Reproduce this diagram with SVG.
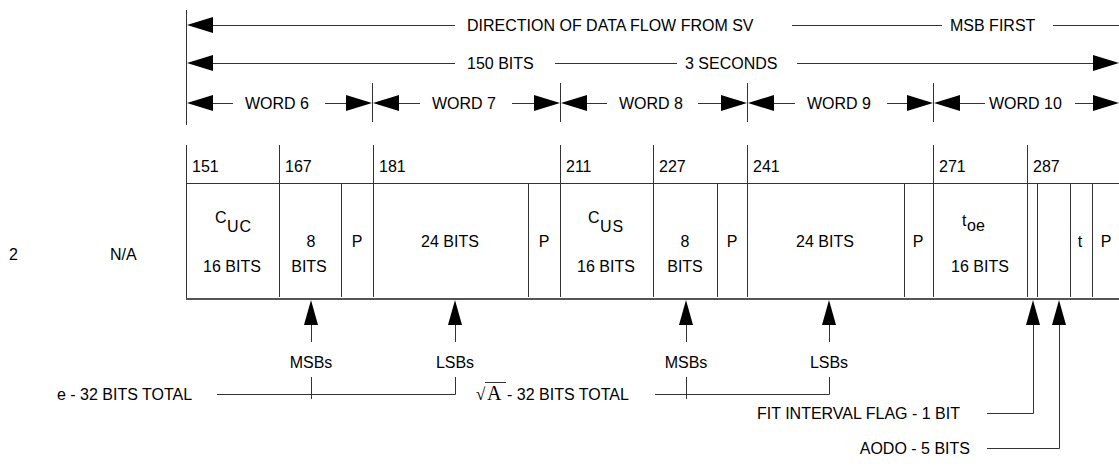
<svg xmlns="http://www.w3.org/2000/svg" width="1119" height="466" viewBox="0 0 1119 466">
<style>
text{font-family:"Liberation Sans",Arial,sans-serif;font-size:16px;fill:#000}
.c{text-anchor:middle}
.e{text-anchor:end}
.ln{stroke:#333;stroke-width:1;fill:none}
.bl{stroke:#555;stroke-width:2;fill:none}
.ah{fill:#000}
.serif{font-family:"Liberation Serif","Times New Roman",serif}
</style>
<rect width="1119" height="466" fill="#fff"/>
<g id="connectors">
<line class="ln" x1="186.5" y1="10" x2="186.5" y2="125"/>
<polygon class="ah" points="187,25 213,17 213,33"/>
<line class="ln" x1="213" y1="25.5" x2="455" y2="25.5"/>
<line class="ln" x1="792" y1="25.5" x2="942" y2="25.5"/>
<line class="ln" x1="1053" y1="25.5" x2="1119" y2="25.5"/>
<polygon class="ah" points="187,63 213,55 213,71"/>
<line class="ln" x1="213" y1="63.5" x2="455" y2="63.5"/>
<line class="ln" x1="555" y1="63.5" x2="677" y2="63.5"/>
<line class="ln" x1="797" y1="63.5" x2="1094" y2="63.5"/>
<polygon class="ah" points="1119,63 1093,55 1093,71"/>
<line class="ln" x1="372.5" y1="83" x2="372.5" y2="122"/>
<line class="ln" x1="560.5" y1="83" x2="560.5" y2="122"/>
<line class="ln" x1="747.5" y1="83" x2="747.5" y2="122"/>
<line class="ln" x1="933.5" y1="83" x2="933.5" y2="122"/>
<polygon class="ah" points="187,103 213,95 213,111"/>
<line class="ln" x1="213" y1="103.5" x2="233" y2="103.5"/>
<line class="ln" x1="325" y1="103.5" x2="347" y2="103.5"/>
<polygon class="ah" points="372,103 346,95 346,111"/>
<polygon class="ah" points="373,103 399,95 399,111"/>
<line class="ln" x1="399" y1="103.5" x2="420" y2="103.5"/>
<line class="ln" x1="512" y1="103.5" x2="535" y2="103.5"/>
<polygon class="ah" points="560,103 534,95 534,111"/>
<polygon class="ah" points="561,103 587,95 587,111"/>
<line class="ln" x1="587" y1="103.5" x2="607" y2="103.5"/>
<line class="ln" x1="698" y1="103.5" x2="722" y2="103.5"/>
<polygon class="ah" points="747,103 721,95 721,111"/>
<polygon class="ah" points="748,103 774,95 774,111"/>
<line class="ln" x1="774" y1="103.5" x2="795" y2="103.5"/>
<line class="ln" x1="887" y1="103.5" x2="908" y2="103.5"/>
<polygon class="ah" points="933,103 907,95 907,111"/>
<polygon class="ah" points="934,103 960,95 960,111"/>
<line class="ln" x1="960" y1="103.5" x2="985" y2="103.5"/>
<line class="ln" x1="1075" y1="103.5" x2="1094" y2="103.5"/>
<polygon class="ah" points="1119,103 1093,95 1093,111"/>
<polygon class="ah" points="311,300 304,325 318,325"/>
<line class="ln" x1="311.5" y1="325" x2="311.5" y2="342"/>
<line class="ln" x1="311.5" y1="377" x2="311.5" y2="399"/>
<polygon class="ah" points="455,300 448,325 462,325"/>
<line class="ln" x1="455.5" y1="325" x2="455.5" y2="342"/>
<polyline class="ln" points="455.5,377 455.5,394.5 217,394.5"/>
<polygon class="ah" points="686,300 679,325 693,325"/>
<line class="ln" x1="686.5" y1="325" x2="686.5" y2="342"/>
<line class="ln" x1="686.5" y1="377" x2="686.5" y2="399"/>
<polygon class="ah" points="829,300 822,325 836,325"/>
<line class="ln" x1="829.5" y1="325" x2="829.5" y2="342"/>
<polyline class="ln" points="829.5,377 829.5,394.5 655,394.5"/>
<polygon class="ah" points="1033,300 1026,325 1040,325"/>
<polyline class="ln" points="1033.5,325 1033.5,413.5 987,413.5"/>
<polygon class="ah" points="1059,300 1052,325 1066,325"/>
<polyline class="ln" points="1059.5,325 1059.5,448.5 987,448.5"/>
</g>
<g id="top-labels">
<text x="467" y="31">DIRECTION OF DATA FLOW FROM SV</text>
<text x="950" y="31">MSB FIRST</text>
<text x="467" y="69">150 BITS</text>
<text x="685" y="69">3 SECONDS</text>
<text x="245" y="109">WORD 6</text>
<text x="432" y="109">WORD 7</text>
<text x="619" y="109">WORD 8</text>
<text x="807" y="109">WORD 9</text>
<text x="989" y="109">WORD 10</text>
</g>
<g id="table">
<line class="ln" x1="186.5" y1="145" x2="186.5" y2="300"/>
<line class="ln" x1="279.5" y1="145" x2="279.5" y2="297"/>
<line class="ln" x1="373.5" y1="145" x2="373.5" y2="297"/>
<line class="ln" x1="560.5" y1="145" x2="560.5" y2="297"/>
<line class="ln" x1="653.5" y1="145" x2="653.5" y2="297"/>
<line class="ln" x1="747.5" y1="145" x2="747.5" y2="297"/>
<line class="ln" x1="933.5" y1="145" x2="933.5" y2="297"/>
<line class="ln" x1="1027.5" y1="145" x2="1027.5" y2="297"/>
<line class="ln" x1="186" y1="183.5" x2="1119" y2="183.5"/>
<line class="ln" x1="341.5" y1="183" x2="341.5" y2="297"/>
<line class="ln" x1="528.5" y1="183" x2="528.5" y2="297"/>
<line class="ln" x1="717.5" y1="183" x2="717.5" y2="297"/>
<line class="ln" x1="904.5" y1="183" x2="904.5" y2="297"/>
<line class="ln" x1="1037.5" y1="183" x2="1037.5" y2="297"/>
<line class="ln" x1="1070.5" y1="183" x2="1070.5" y2="297"/>
<line class="ln" x1="1092.5" y1="183" x2="1092.5" y2="297"/>
<line class="bl" x1="186" y1="299" x2="1119" y2="299"/>
<text x="192" y="172">151</text>
<text x="285" y="172">167</text>
<text x="379" y="172">181</text>
<text x="566" y="172">211</text>
<text x="659" y="172">227</text>
<text x="753" y="172">241</text>
<text x="939" y="172">271</text>
<text x="1033" y="172">287</text>
</g>
<g id="cell-cuc">
<text x="215" y="223">C<tspan x="227" y="232" letter-spacing="1">UC</tspan></text>
<text class="c" x="232" y="272">16 BITS</text>
</g>
<g id="cell-8a"><text class="c" x="311" y="247">8</text><text class="c" x="309" y="272">BITS</text></g>
<g id="cell-p1"><text class="c" x="357" y="247">P</text></g>
<g id="cell-24a"><text class="c" x="450" y="247">24 BITS</text></g>
<g id="cell-p2"><text class="c" x="544" y="247">P</text></g>
<g id="cell-cus">
<text x="588" y="223">C<tspan x="600" y="232" letter-spacing="1">US</tspan></text>
<text class="c" x="606" y="272">16 BITS</text>
</g>
<g id="cell-8b"><text class="c" x="685" y="247">8</text><text class="c" x="685" y="272">BITS</text></g>
<g id="cell-p3"><text class="c" x="732" y="247">P</text></g>
<g id="cell-24b"><text class="c" x="825" y="247">24 BITS</text></g>
<g id="cell-p4"><text class="c" x="918" y="247">P</text></g>
<g id="cell-toe">
<text x="962" y="226">t<tspan x="967" y="231">oe</tspan></text>
<text class="c" x="980" y="272">16 BITS</text>
</g>
<g id="cell-t"><text class="c" x="1080" y="247">t</text></g>
<g id="cell-p5"><text class="c" x="1106" y="247">P</text></g>
<g id="row-labels">
<text x="9" y="260">2</text>
<text x="110" y="260">N/A</text>
</g>
<g id="bottom-labels">
<text class="c" x="311" y="368">MSBs</text>
<text class="c" x="455" y="368">LSBs</text>
<text class="c" x="686" y="368">MSBs</text>
<text class="c" x="829" y="368">LSBs</text>
<text x="57" y="400">e - 32 BITS TOTAL</text>
<g id="sqrtA">
<text class="serif" x="476" y="400" style="font-size:17px">√</text>
<line class="ln" x1="485" y1="382.5" x2="506" y2="382.5"/>
<text class="serif" x="487" y="400" style="font-size:20px">A</text>
<text x="507" y="400">- 32 BITS TOTAL</text>
</g>
<text class="e" x="960" y="419">FIT INTERVAL FLAG - 1 BIT</text>
<text class="e" x="970" y="454">AODO - 5 BITS</text>
</g>
</svg>
